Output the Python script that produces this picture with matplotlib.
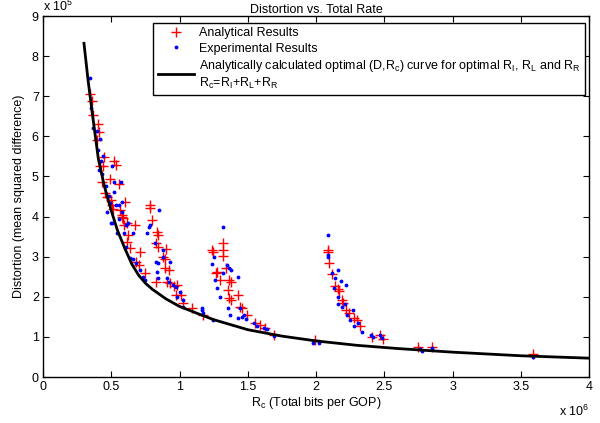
from matplotlib import pyplot as plt

plt.rcParams['font.family'] = ['Liberation Sans', 'DejaVu Sans']
plt.rcParams['mathtext.fontset'] = 'custom'
plt.rcParams['mathtext.rm'] = 'Liberation Sans'
plt.rcParams['mathtext.it'] = 'Liberation Sans'

# rate in 1e6 bits per GOP, distortion in 1e5
curve_r = [0.30, 0.33, 0.36, 0.405, 0.45, 0.50, 0.544, 0.60, 0.65, 0.70, 0.75, 0.80, 0.90,
           1.00, 1.15, 1.25, 1.50, 1.75, 2.00, 2.30, 2.60, 3.00, 3.50, 4.00]
curve_d = [8.32, 7.40, 6.60, 5.45, 4.75, 4.15, 3.67, 3.20, 2.82, 2.54, 2.34, 2.19, 1.95,
           1.76, 1.56, 1.43, 1.18, 1.02, 0.90, 0.79, 0.71, 0.62, 0.53, 0.47]

analytical_r = [0.344, 0.357, 0.364, 0.40, 0.41, 0.393, 0.447, 0.523, 0.535, 0.418,
                0.442, 0.491, 0.559, 0.43, 0.454, 0.467, 0.498, 0.60, 0.515, 0.564,
                0.576, 0.588, 0.613, 0.674, 0.784, 0.784, 0.796,
                0.503, 0.58, 0.593, 0.625, 0.613, 0.637, 0.711, 0.681, 0.70, 0.747,
                0.825, 0.833, 0.845, 0.828, 0.84, 0.899, 0.882, 0.89, 0.894, 0.92,
                0.906, 0.93, 0.98, 0.96, 0.972, 1.01, 1.028, 1.089, 1.174,
                1.236, 1.245, 1.316, 1.316, 1.32, 1.277, 1.27, 1.341, 1.297, 1.365,
                1.38, 1.358, 1.363, 1.38, 1.43, 1.443, 1.46, 1.492, 1.553, 1.59,
                1.626, 1.692, 1.993, 2.085, 2.09, 2.098, 2.115, 2.139, 2.16, 2.17,
                2.188, 2.20, 2.22, 2.24, 2.278, 2.30, 2.322, 2.408, 2.469, 2.49,
                2.75, 2.85, 3.59]
analytical_d = [7.05, 6.87, 6.53, 6.31, 6.12, 5.91, 5.49, 5.39, 5.29, 5.25,
                5.25, 4.94, 4.81, 4.87, 4.58, 4.50, 4.41, 4.37, 4.19, 4.16,
                4.04, 3.96, 3.83, 3.79, 4.29, 4.21, 3.92,
                4.29, 4.00, 3.79, 3.54, 3.37, 3.21, 3.12, 2.87, 2.80, 2.59,
                2.38, 3.62, 3.55, 3.33, 3.25, 3.18, 3.00, 2.95, 2.71, 2.67,
                2.38, 2.34, 2.29, 2.26, 2.04, 2.04, 1.84, 1.71, 1.55,
                3.17, 3.12, 3.33, 3.17, 3.02, 2.63, 2.60, 2.71, 2.42, 2.42,
                2.38, 2.17, 1.96, 1.93, 2.04, 1.75, 1.72, 1.55, 1.34, 1.30,
                1.21, 1.05, 0.92, 3.17, 3.12, 2.85, 2.57, 2.27, 2.19, 2.14,
                1.92, 1.85, 1.67, 1.59, 1.46, 1.42, 1.27, 1.00, 1.05, 0.95,
                0.76, 0.76, 0.57]

experimental_r = [0.344, 0.35, 0.364, 0.393, 0.418, 0.405, 0.437, 0.425, 0.508, 0.41,
                  0.43, 0.523, 0.571, 0.52, 0.462, 0.486, 0.491, 0.535, 0.576, 0.56,
                  0.471, 0.581, 0.559, 0.50, 0.61, 0.62, 0.85, 0.784, 0.78, 1.316,
                  0.503, 0.54, 0.59, 0.662, 0.61, 0.637, 0.66, 0.68, 0.711, 0.747,
                  0.73, 0.764, 0.82, 0.828, 0.845, 0.833, 0.84, 0.878, 0.88, 0.93,
                  0.906, 0.92, 0.955, 0.975, 1.004, 1.028, 0.98, 1.023, 1.162, 1.162,
                  1.248, 1.25, 1.26, 1.273, 1.297, 1.346, 1.36, 1.38, 1.43, 1.358,
                  1.37, 1.43, 1.46, 1.24, 1.32, 1.445, 1.47, 1.49, 1.545, 1.57,
                  1.617, 1.64, 1.69, 1.17, 1.98, 2.02, 2.085, 2.09, 2.09, 2.115,
                  2.14, 2.16, 2.18, 2.22, 2.13, 2.16, 2.164, 2.19, 2.21, 2.27,
                  2.23, 2.25, 2.28, 2.31, 2.34, 2.40, 2.42, 2.47, 2.48,
                  2.76, 2.78, 2.85, 3.59]
experimental_d = [7.45, 6.70, 6.22, 6.14, 5.93, 5.66, 5.51, 5.39, 5.26, 5.15,
                  5.05, 4.85, 4.87, 4.62, 4.75, 4.52, 4.33, 4.29, 4.37, 4.30,
                  4.12, 4.12, 3.94, 3.83, 3.79, 3.85, 4.16, 3.79, 3.75, 3.75,
                  3.83, 3.58, 3.58, 3.58, 3.25, 2.96, 2.93, 2.85, 2.67, 2.42,
                  2.50, 3.58, 3.33, 2.87, 2.85, 2.63, 2.46, 3.00, 3.17, 2.87,
                  2.46, 2.38, 2.29, 2.24, 2.13, 1.92, 2.00, 1.75, 1.71, 1.67,
                  1.42, 2.99, 2.42, 2.21, 2.00, 2.79, 2.71, 2.67, 2.50, 1.71,
                  1.55, 1.46, 1.50, 2.83, 2.59, 1.71, 1.55, 1.45, 1.34, 1.26,
                  1.21, 1.19, 1.02, 1.59, 0.86, 0.84, 3.54, 3.05, 3.00, 2.60,
                  2.46, 2.66, 2.40, 2.30, 2.21, 2.00, 1.82, 1.75, 1.83, 1.67,
                  1.55, 1.42, 1.26, 1.34, 1.13, 1.05, 1.00, 1.05, 0.97,
                  0.70, 0.66, 0.72, 0.51]

fs = 9

fig = plt.figure(figsize=(6, 4.23), dpi=100)
ax = fig.add_axes([0.0717, 0.1087, 0.91, 0.8534])

ax.plot(analytical_r, analytical_d, '+', color='red', markersize=7, markeredgewidth=1,
        label='Analytical Results')
ax.plot(experimental_r, experimental_d, '.', color='blue', markersize=3.5,
        label='Experimental Results')
ax.plot(curve_r, curve_d, '-', color='black', linewidth=2,
        label='Analytically calculated optimal (D,$\\mathregular{R_c}$) curve for optimal '
              '$\\mathregular{R_I}$, $\\mathregular{R_L}$ and $\\mathregular{R_R}$\n'
              '$\\mathregular{R_c}$=$\\mathregular{R_I}$+$\\mathregular{R_L}$+$\\mathregular{R_R}$')

ax.set_xlim(0, 4)
ax.set_ylim(0, 9)
ax.set_xticks([0, 0.5, 1, 1.5, 2, 2.5, 3, 3.5, 4])
ax.set_xticklabels(['0', '0.5', '1', '1.5', '2', '2.5', '3', '3.5', '4'])
ax.set_yticks(range(10))
ax.tick_params(direction='in', top=True, right=True, labelsize=fs, length=4, pad=3)
for s in ax.spines.values():
    s.set_linewidth(1)

ax.set_xlabel('$\\mathregular{R_c}$ (Total bits per GOP)', fontsize=fs, labelpad=1)
ax.set_ylabel('Distortion (mean squared difference)', fontsize=fs, labelpad=5)
ax.set_title('Distortion vs. Total Rate', fontsize=fs, pad=2)
ax.text(1.0, -0.075, 'x 10$^{\\mathregular{6}}$', transform=ax.transAxes,
        ha='right', va='top', fontsize=fs)
ax.text(0.0, 1.005, 'x 10$^{\\mathregular{5}}$', transform=ax.transAxes,
        ha='left', va='bottom', fontsize=fs)

leg = ax.legend(loc='upper right', bbox_to_anchor=(0.9927, 0.9806), borderaxespad=0,
                fontsize=fs, frameon=True, fancybox=False, edgecolor='black',
                framealpha=1, borderpad=0.35, labelspacing=0.25, handlelength=2.9,
                handletextpad=0.4)
leg.get_frame().set_linewidth(1)

fig.savefig('out.png', dpi=100)
